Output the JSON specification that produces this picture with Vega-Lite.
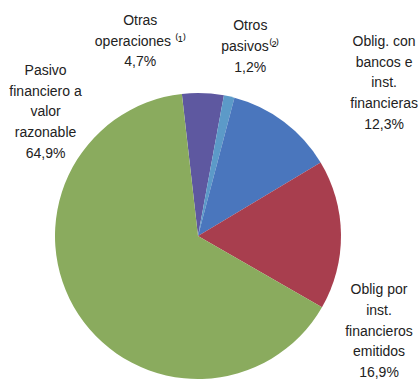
{
  "$schema": "https://vega.github.io/schema/vega-lite/v6.json",
  "width": 286,
  "height": 286,
  "autosize": {"type": "none"},
  "padding": {"left": 55, "top": 93, "right": 77, "bottom": 4},
  "background": "white",
  "config": {"view": {"stroke": null}},
  "data": {
    "values": [
      {"idx": 1, "cat": "Otras operaciones", "value": 4.7, "label": "Otras\noperaciones ⁽¹⁾\n4,7%"},
      {"idx": 2, "cat": "Otros pasivos", "value": 1.2, "label": "Otros\npasivos⁽²⁾\n1,2%"},
      {"idx": 3, "cat": "Oblig. con bancos e inst. financieras", "value": 12.3, "label": "Oblig. con\nbancos e\ninst.\nfinancieras\n12,3%"},
      {"idx": 4, "cat": "Oblig por inst. financieros emitidos", "value": 16.9, "label": "Oblig por\ninst.\nfinancieros\nemitidos\n16,9%"},
      {"idx": 5, "cat": "Pasivo financiero a valor razonable", "value": 64.9, "label": "Pasivo\nfinanciero a\nvalor\nrazonable\n64,9%"}
    ]
  },
  "encoding": {
    "theta": {"field": "value", "type": "quantitative", "stack": true, "scale": {"range": [-0.113, 6.170]}},
    "order": {"field": "idx", "type": "quantitative", "sort": "ascending"}
  },
  "layer": [
    {
      "mark": {"type": "arc", "stroke": null},
      "encoding": {
        "color": {
          "field": "cat",
          "type": "nominal",
          "legend": null,
          "scale": {
            "domain": ["Otras operaciones", "Otros pasivos", "Oblig. con bancos e inst. financieras", "Oblig por inst. financieros emitidos", "Pasivo financiero a valor razonable"],
            "range": ["#5e58a0", "#5c9ac8", "#4a76bd", "#a83e4e", "#8aab5e"]
          }
        }
      }
    },
    {
      "mark": {
        "type": "text",
        "radius": 180,
        "font": "Liberation Sans",
        "fontSize": 14,
        "lineHeight": 20.7,
        "lineBreak": "\n",
        "align": "center",
        "baseline": "middle",
        "color": "#222222",
        "dx": {"expr": "datum.idx == 1 ? -64 : datum.idx == 2 ? 13 : datum.idx == 3 ? 78 : datum.idx == 4 ? 1 : -2"},
        "dy": {"expr": "datum.idx == 1 ? -35 : datum.idx == 2 ? -34 : datum.idx == 3 ? -50 : datum.idx == 4 ? 56 : -264"}
      },
      "encoding": {
        "text": {"field": "label", "type": "nominal"}
      }
    }
  ]
}
